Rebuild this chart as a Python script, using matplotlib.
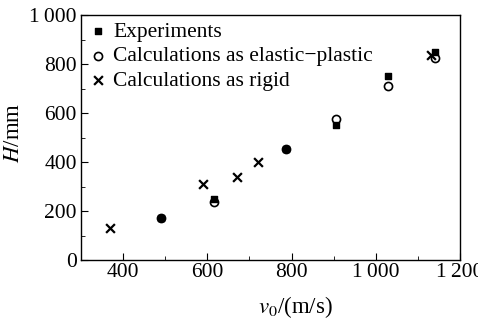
import matplotlib
matplotlib.use("Agg")
import matplotlib.pyplot as plt
from matplotlib.ticker import MultipleLocator, FixedLocator

plt.rcParams['font.family'] = ['Liberation Serif', 'DejaVu Serif']
plt.rcParams['mathtext.fontset'] = 'stix'

# experiments
exp_v = [490, 617, 787, 905, 1030, 1140]
exp_h = [170, 250, 455, 550, 750, 848]
# elastic-plastic calculations
ep_v = [490, 617, 787, 905, 1030, 1140]
ep_h = [170, 237, 455, 577, 712, 825]
# rigid calculations
rg_v = [370, 590, 670, 720, 1130]
rg_h = [130, 310, 340, 400, 835]

xticks = [400, 600, 800, 1000, 1200]
xticklabels = ['400', '600', '800', '1\u2009000', '1\u2009200']
yticks = [0, 200, 400, 600, 800, 1000]
yticklabels = ['0', '200', '400', '600', '800', '1\u2009000']

fig = plt.figure(figsize=(4.78, 3.22), dpi=100)
ax = fig.add_axes([81/478, 62/322, 379/478, 245/322])

ax.scatter(exp_v, exp_h, marker='s', s=16, color='black', label='Experiments', zorder=3)
ax.scatter(ep_v, ep_h, marker='o', s=34, facecolors='white', edgecolors='black',
           linewidths=1.2, label='Calculations as elastic\u2212plastic', zorder=2)
ax.scatter(rg_v, rg_h, marker='x', s=40, color='black', linewidths=1.6,
           label='Calculations as rigid', zorder=4)

ax.set_xlim(300, 1200)
ax.set_ylim(0, 1000)
ax.set_xticks(xticks)
ax.set_xticklabels(xticklabels)
ax.set_yticks(yticks)
ax.set_yticklabels(yticklabels)
ax.xaxis.set_minor_locator(FixedLocator([500, 700, 900, 1100]))
ax.yaxis.set_minor_locator(MultipleLocator(100))
ax.tick_params(which='both', direction='in', labelsize=15.5, top=False, right=False)
ax.tick_params(which='major', length=5, pad=3)
ax.tick_params(axis='x', which='major', pad=2)
ax.tick_params(which='minor', length=3)
for s in ax.spines.values():
    s.set_linewidth(1.0)

ax.set_xlabel('$v_0$/(m/s)', fontsize=16.5)
ax.xaxis.set_label_coords(0.565, -0.14)
ax.set_ylabel('$H$/mm', fontsize=16.5)
ax.yaxis.set_label_coords(-0.15, 0.52)

ax.legend(loc='upper left', frameon=False, fontsize=15.5, handletextpad=0.2,
          borderaxespad=0.0, labelspacing=0.22, handlelength=1.0, borderpad=0.3)

fig.savefig('out.png', dpi=100)
